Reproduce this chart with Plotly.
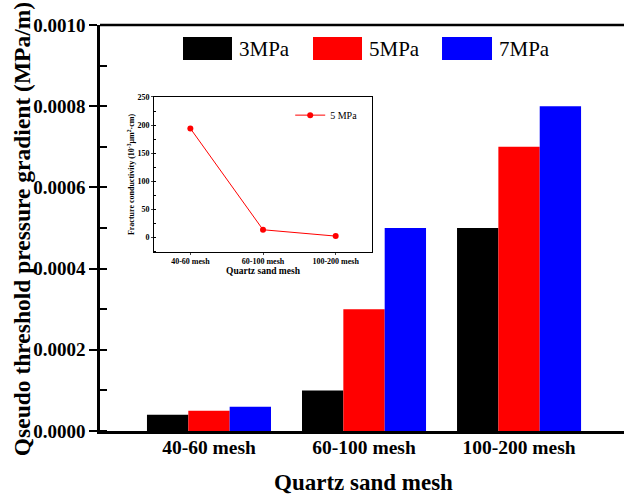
import plotly.graph_objects as go

# ---- data ----
categories = ["40-60 mesh", "60-100 mesh", "100-200 mesh"]
series_names = ["3MPa", "5MPa", "7MPa"]
gradient_3mpa = [0.00004, 0.0001, 0.0005]
gradient_5mpa = [0.00005, 0.0003, 0.0007]
gradient_7mpa = [0.00006, 0.0005, 0.0008]
conductivity_5mpa = [194, 13.6, 2.3]
inset_series_name = "5 MPa"
y_ticks = [0, 0.0002, 0.0004, 0.0006, 0.0008, 0.0010]
inset_y_ticks = [0, 50, 100, 150, 200, 250]
x_title = "Quartz sand mesh"
y_title = "Qseudo threshold pressure gradient (MPa/m)"

colors = ["#000000", "#FF0000", "#0000FF"]
FONT = "Liberation Serif, Times New Roman, serif"

fig = go.Figure()
for name, vals, c in zip(series_names, [gradient_3mpa, gradient_5mpa, gradient_7mpa], colors):
    fig.add_trace(go.Bar(x=categories, y=vals, name=name, marker=dict(color=c, line=dict(width=0)),
                         showlegend=False, xaxis="x", yaxis="y"))

fig.add_trace(go.Scatter(x=categories, y=conductivity_5mpa, name=inset_series_name, mode="lines+markers",
                         line=dict(color="#FF0000", width=1), marker=dict(color="#FF0000", size=6),
                         xaxis="x2", yaxis="y2", showlegend=True))

# custom legend boxes for the bar series (large swatches as in reference)
box_x = [(0.1584, 0.2519), (0.4065, 0.5000), (0.6527, 0.7481)]
text_x = [0.2615, 0.5095, 0.7576]
shapes = []
annotations = []
for (x0, x1), tx, name, c in zip(box_x, text_x, series_names, colors):
    shapes.append(dict(type="rect", xref="paper", yref="paper", x0=x0, x1=x1, y0=0.9138, y1=0.9704,
                       fillcolor=c, line=dict(width=0)))
    annotations.append(dict(text=name, xref="paper", yref="paper", x=tx, y=0.9409, xanchor="left",
                            yanchor="middle", showarrow=False, font=dict(family=FONT, size=21, color="black")))
# top frame line (no right frame line in reference)
shapes.append(dict(type="line", xref="paper", yref="paper", x0=0, x1=1, y0=1, y1=1,
                   line=dict(color="black", width=2.5)))

# main axis titles
annotations.append(dict(text=x_title, xref="paper", yref="paper", x=0.502, y=-0.128, xanchor="center",
                        yanchor="middle", showarrow=False,
                        font=dict(family=FONT, size=23, weight="bold", color="black")))
annotations.append(dict(text=y_title, xref="paper", yref="paper", x=-0.1489, y=0.497, xanchor="center",
                        yanchor="middle", textangle=-90, showarrow=False,
                        font=dict(family=FONT, size=23.5, weight="bold", color="black")))

fig.update_layout(
    width=624, height=496,
    margin=dict(l=100, r=0, t=25, b=65, autoexpand=False),
    paper_bgcolor="white", plot_bgcolor="white",
    barmode="group", bargap=0.2, bargroupgap=0,
    font=dict(family=FONT, color="black"),
    shapes=shapes, annotations=annotations,
    xaxis=dict(domain=[0, 1], type="category", range=[-0.703, 2.677], showline=True, linecolor="black",
               linewidth=2.5, ticks="", showgrid=False, zeroline=False, automargin=False,
               tickfont=dict(family=FONT, size=19.5, weight="bold", color="black"), ticklabelstandoff=-3),
    yaxis=dict(domain=[0, 1], range=[0, 0.001], tickvals=y_ticks, tickformat=".4f", showline=True,
               linecolor="black", linewidth=2.5, ticks="outside", ticklen=8, tickwidth=2, tickcolor="black",
               minor=dict(dtick=0.0001, ticks="inside", ticklen=7, tickwidth=2, tickcolor="black"),
               showgrid=False, zeroline=False, automargin=False,
               tickfont=dict(family=FONT, size=19, weight="bold", color="black")),
    xaxis2=dict(domain=[0.1031, 0.5191], anchor="y2", type="category", range=[-0.5, 2.5], showline=True,
                mirror=True, linecolor="black", linewidth=1, ticks="outside", ticklen=2, tickwidth=1,
                showgrid=False, zeroline=False, automargin=False, ticklabelstandoff=-1,
                tickfont=dict(family=FONT, size=8, weight="bold", color="black"),
                title=dict(text="Quartz sand mesh", font=dict(family=FONT, size=9.5, weight="bold", color="black"),
                           standoff=2)),
    yaxis2=dict(domain=[0.4409, 0.8227], anchor="x2", range=[-26, 250], tickvals=inset_y_ticks, showline=True,
                mirror=True, linecolor="black", linewidth=1, ticks="outside", ticklen=2, tickwidth=1,
                minor=dict(dtick=25, ticks="inside", ticklen=2, tickwidth=1, tickcolor="black"),
                showgrid=False, zeroline=False, automargin=False,
                tickfont=dict(family=FONT, size=8, weight="bold", color="black"),
                title=dict(text="Fracture conductivity (10<sup>-3</sup>μm<sup>2</sup>·cm)",
                           font=dict(family=FONT, size=8, weight="bold", color="black"), standoff=1)),
    legend=dict(x=0.363, y=0.778, xanchor="left", yanchor="middle", bgcolor="rgba(0,0,0,0)",
                borderwidth=0, itemwidth=30, font=dict(family=FONT, size=10, color="black"),
                tracegroupgap=0),
    showlegend=True,
)

fig.write_html("out.html", config={"displayModeBar": False},
               post_script="document.body.style.margin='0';")
